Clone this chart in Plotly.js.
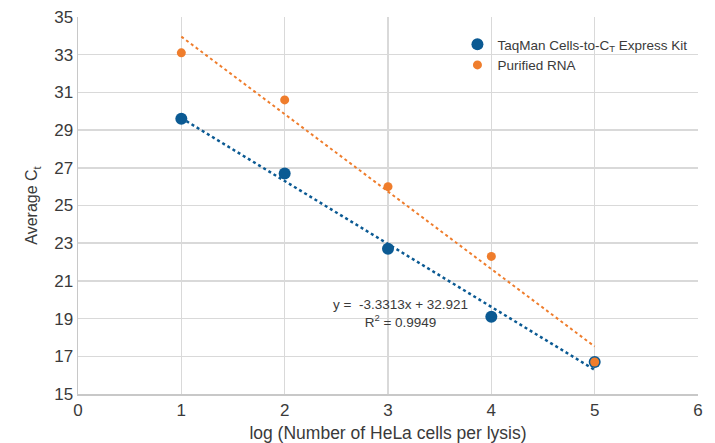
<!DOCTYPE html>
<html>
<head>
<meta charset="utf-8">
<script src="https://cdn.plot.ly/plotly-3.0.1.min.js"></script>
<style>html,body{margin:0;padding:0;background:#fff}#chart{width:715px;height:443px}</style>
</head>
<body>
<div id="chart"></div>
<script>
const logCells = [1, 2, 3, 4, 5];
const taqmanCt = [29.6, 26.7, 22.7, 19.1, 16.7];
const purifiedCt = [33.1, 30.6, 26.0, 22.3, 16.7];
const seriesNames = ['TaqMan Cells-to-C<sub>T</sub> Express Kit', 'Purified RNA'];
const xTicks = [0, 1, 2, 3, 4, 5, 6];
const yTicks = [15, 17, 19, 21, 23, 25, 27, 29, 31, 33, 35];
const equationText = 'y =  -3.3313x + 32.921<br>R<sup>2</sup> = 0.9949';

function fit(xs, ys) {
  const n = xs.length;
  const mx = xs.reduce((a, b) => a + b, 0) / n;
  const my = ys.reduce((a, b) => a + b, 0) / n;
  let sxy = 0, sxx = 0;
  for (let i = 0; i < n; i++) { sxy += (xs[i] - mx) * (ys[i] - my); sxx += (xs[i] - mx) ** 2; }
  const m = sxy / sxx, b = my - m * mx;
  const x0 = Math.min(...xs), x1 = Math.max(...xs);
  return { x: [x0, x1], y: [m * x0 + b, m * x1 + b] };
}

const blue = '#0b5a93';
const orange = '#ef7d2c';
const fitBlue = fit(logCells, taqmanCt);
const fitOrange = fit(logCells, purifiedCt);

const traces = [
  { x: fitOrange.x, y: fitOrange.y, mode: 'lines', line: { color: orange, width: 2, dash: 'dot' }, showlegend: false, hoverinfo: 'skip' },
  { x: fitBlue.x, y: fitBlue.y, mode: 'lines', line: { color: blue, width: 2.5, dash: 'dot' }, showlegend: false, hoverinfo: 'skip' },
  { x: logCells, y: taqmanCt, mode: 'markers', name: seriesNames[0], marker: { color: blue, size: 12 } },
  { x: logCells, y: purifiedCt, mode: 'markers', name: seriesNames[1], marker: { color: orange, size: 9 } }
];

const fam = 'Liberation Sans, Arial, sans-serif';
const tickFont = { family: fam, size: 17, color: '#3a3a3a' };
const layout = {
  width: 715, height: 443,
  margin: { l: 78, r: 17, t: 17, b: 49 },
  paper_bgcolor: '#fff', plot_bgcolor: '#fff',
  font: { family: fam, color: '#3a3a3a' },
  xaxis: {
    range: [0, 6], tickvals: xTicks, ticktext: xTicks.map(String),
    showgrid: true, gridcolor: '#d9d9d9', gridwidth: 1.5,
    showline: true, linecolor: '#c8c8c8', linewidth: 1.5, zeroline: false,
    tickfont: tickFont, ticks: '',
    title: { text: 'log (Number of HeLa cells per lysis)', font: { size: 17.5, color: '#3a3a3a' }, standoff: 10 }
  },
  yaxis: {
    range: [15, 35], tickvals: yTicks, ticktext: yTicks.map(String),
    showgrid: true, gridcolor: '#d9d9d9', gridwidth: 1.5,
    showline: true, linecolor: '#c8c8c8', linewidth: 1.5, zeroline: false,
    tickfont: tickFont, ticks: '',
    title: { text: 'Average C<sub>t</sub>', font: { size: 16, color: '#3a3a3a' }, standoff: 12 }
  },
  legend: {
    x: 0.612, y: 0.968, xanchor: 'left', yanchor: 'top',
    bgcolor: 'rgba(0,0,0,0)', font: { size: 13.5, color: '#3a3a3a' },
    tracegroupgap: 0, itemwidth: 30
  },
  annotations: [{
    x: 3.12, y: 19.25, xref: 'x', yref: 'y', text: equationText, showarrow: false,
    font: { size: 13.5, color: '#3a3a3a' }, align: 'center'
  }]
};

Plotly.newPlot('chart', traces, layout, { displayModeBar: false, staticPlot: true });
</script>
</body>
</html>
